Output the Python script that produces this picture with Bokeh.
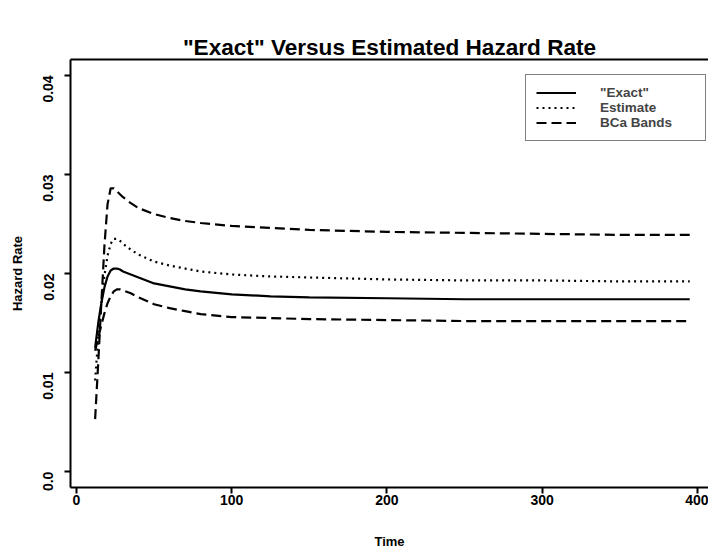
from bokeh.plotting import figure
from bokeh.models import Range1d, FixedTicker, LinearAxis, Legend, LegendItem
from bokeh.embed import file_html
from bokeh.resources import INLINE

# ---- data ----
time = [12, 14, 16, 18, 20, 22, 24, 26, 28, 30, 35, 40, 50, 60, 70, 80,
        100, 125, 150, 200, 250, 300, 350, 395]
exact = [0.0125, 0.0150, 0.0170, 0.0186, 0.0197, 0.0203, 0.0205, 0.0205,
         0.0204, 0.0202, 0.0199, 0.0196, 0.0190, 0.0187, 0.0184, 0.0182,
         0.0179, 0.0177, 0.0176, 0.0175, 0.0174, 0.0174, 0.0174, 0.0174]
estimate = [0.0092, 0.0135, 0.0170, 0.0198, 0.0218, 0.0230, 0.0235, 0.0235,
            0.0233, 0.0230, 0.0224, 0.0219, 0.0212, 0.0208, 0.0205, 0.0202,
            0.0199, 0.0197, 0.0196, 0.0194, 0.0193, 0.0193, 0.0192, 0.0192]
bca_upper = [0.0053, 0.0110, 0.0170, 0.0228, 0.0270, 0.0286, 0.0286, 0.0283,
             0.0280, 0.0277, 0.0271, 0.0266, 0.0260, 0.0256, 0.0253, 0.0251,
             0.0248, 0.0246, 0.0244, 0.0242, 0.0241, 0.0240, 0.0239, 0.0239]
bca_lower = [0.0122, 0.0135, 0.0148, 0.0160, 0.0170, 0.0177, 0.0182, 0.0184,
             0.0184, 0.0183, 0.0180, 0.0176, 0.0169, 0.0165, 0.0162, 0.0159,
             0.0156, 0.0155, 0.0154, 0.0153, 0.0152, 0.0152, 0.0152, 0.0152]

x_ticks = [0, 100, 200, 300, 400]
y_ticks = [0.0, 0.01, 0.02, 0.03, 0.04]
y_tick_labels = ["0.0", "0.01", "0.02", "0.03", "0.04"]
legend_labels = ['"Exact"', "Estimate", "BCa Bands"]

FONT = "Liberation Sans"
x_start, x_end = -3.86, 407.1
y_start, y_end = -0.0016, 0.0416

p = figure(width=708, height=551,
           x_range=Range1d(x_start, x_end), y_range=Range1d(y_start, y_end),
           output_backend="svg", toolbar_location=None,
           min_border_left=70, min_border_right=0,
           min_border_top=59, min_border_bottom=62)

p.title.text = '"Exact" Versus Estimated Hazard Rate'
p.title.align = "center"
p.title.text_font = FONT
p.title.text_font_size = "22.6px"
p.title.text_font_style = "bold"
p.title.text_color = "black"
p.title.standoff = 0

p.grid.visible = False
p.outline_line_color = None
p.background_fill_color = "white"
p.border_fill_color = "white"

# bottom axis
xa = p.xaxis[0]
xa.ticker = FixedTicker(ticks=x_ticks)
xa.axis_label = "Time"
# left axis
ya = p.yaxis[0]
ya.ticker = FixedTicker(ticks=y_ticks)
ya.major_label_overrides = {t: l for t, l in zip(y_ticks, y_tick_labels)}
ya.axis_label = "Hazard Rate"
ya.major_label_orientation = 1.5707963

for ax in (xa, ya):
    ax.axis_line_width = 2
    ax.axis_line_color = "black"
    ax.major_tick_line_width = 2
    ax.major_tick_line_color = "black"
    ax.major_tick_out = 6
    ax.major_tick_in = 0
    ax.minor_tick_line_color = None
    ax.major_label_text_font = FONT
    ax.major_label_text_font_size = "14px"
    ax.major_label_text_font_style = "bold"
    ax.major_label_text_color = "black"
    ax.axis_label_text_font = FONT
    ax.axis_label_text_font_size = "13px"
    ax.axis_label_text_font_style = "bold"
    ax.axis_label_text_color = "black"

xa.major_label_standoff = 1
xa.axis_label_standoff = 26
ya.major_label_standoff = 16
ya.axis_label_standoff = 11

# top border line of the box: a bare axis above the frame, no ticks or labels
top = LinearAxis(ticker=FixedTicker(ticks=[]),
                 axis_line_width=2, axis_line_color="black",
                 major_tick_line_color=None, minor_tick_line_color=None,
                 major_tick_out=0, major_tick_in=0,
                 minor_tick_out=0, minor_tick_in=0,
                 major_label_standoff=0, axis_label_standoff=0,
                 major_label_text_font_size="0px")
p.add_layout(top, "above")

r_exact = p.line(time, exact, line_color="black", line_width=2.2)
r_est = p.line(time, estimate, line_color="black", line_width=2.2,
               line_dash="2 4")
r_up = p.line(time, bca_upper, line_color="black", line_width=2.2,
              line_dash="10 5")
r_lo = p.line(time, bca_lower, line_color="black", line_width=2.2,
              line_dash="10 5")

legend = Legend(items=[LegendItem(label=legend_labels[0], renderers=[r_exact]),
                       LegendItem(label=legend_labels[1], renderers=[r_est]),
                       LegendItem(label=legend_labels[2], renderers=[r_up])],
                location=(455, 346), padding=10, spacing=0,
                glyph_width=40, glyph_height=15, label_height=15,
                label_standoff=24, label_width=95,
                label_text_font=FONT, label_text_font_size="13.5px",
                label_text_font_style="bold", label_text_line_height=1.0,
                border_line_color="black", border_line_width=1.5,
                background_fill_color="white", background_fill_alpha=1)
p.add_layout(legend)

open("out.html", "w").write(file_html(p, INLINE))
